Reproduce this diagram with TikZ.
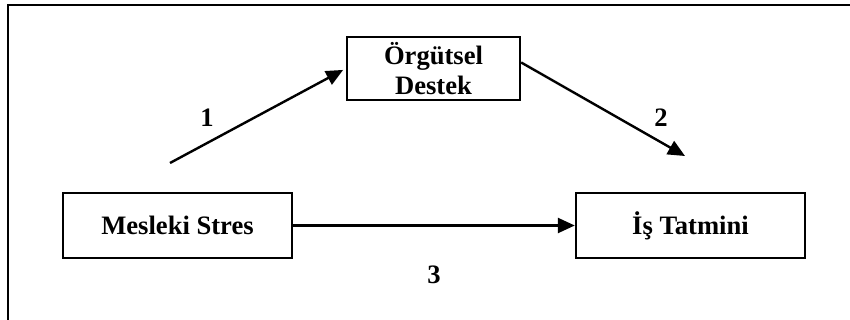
\documentclass[tikz,border=0pt]{standalone}
\usepackage{fontspec}
\setmainfont{Liberation Serif}
\usetikzlibrary{arrows.meta}
\begin{document}
\begin{tikzpicture}[x=1pt,y=-1pt,
  lbl/.style={font=\fontsize{26.6}{30}\selectfont\bfseries, inner sep=0pt},
  boxnode/.style={draw, line width=2.4pt, font=\fontsize{26.6}{30}\selectfont\bfseries, align=center, inner sep=0pt},
  conn/.style={line width=2.4pt, -{Triangle[length=17pt,width=15pt]}}]
\useasboundingbox (0,0) rectangle (850,320);
\draw[line width=2.6pt] (8,320) -- (8,5) -- (850,5);
\node[boxnode, minimum width=173pt, minimum height=63pt] (og) at (433.5,68.5) {Örgütsel\\Destek};
\node[boxnode, minimum width=229pt, minimum height=65pt] (ms) at (177.5,225.5) {Mesleki Stres};
\node[boxnode, minimum width=229pt, minimum height=65pt] (it) at (690.5,225.5) {İş Tatmini};
\coordinate (s1) at (170,163);
\coordinate (e2) at (685,156);
\draw[conn, shorten >=3pt] (s1) -- (og.west);
\draw[conn] ([yshift=6pt]og.east) -- (e2);
\draw[conn] (ms.east) -- (it.west);
\node[lbl] (l1) at (207,118) {1};
\node[lbl] (l2) at (661,118) {2};
\node[lbl] (l3) at (434,275) {3};
\end{tikzpicture}
\end{document}
